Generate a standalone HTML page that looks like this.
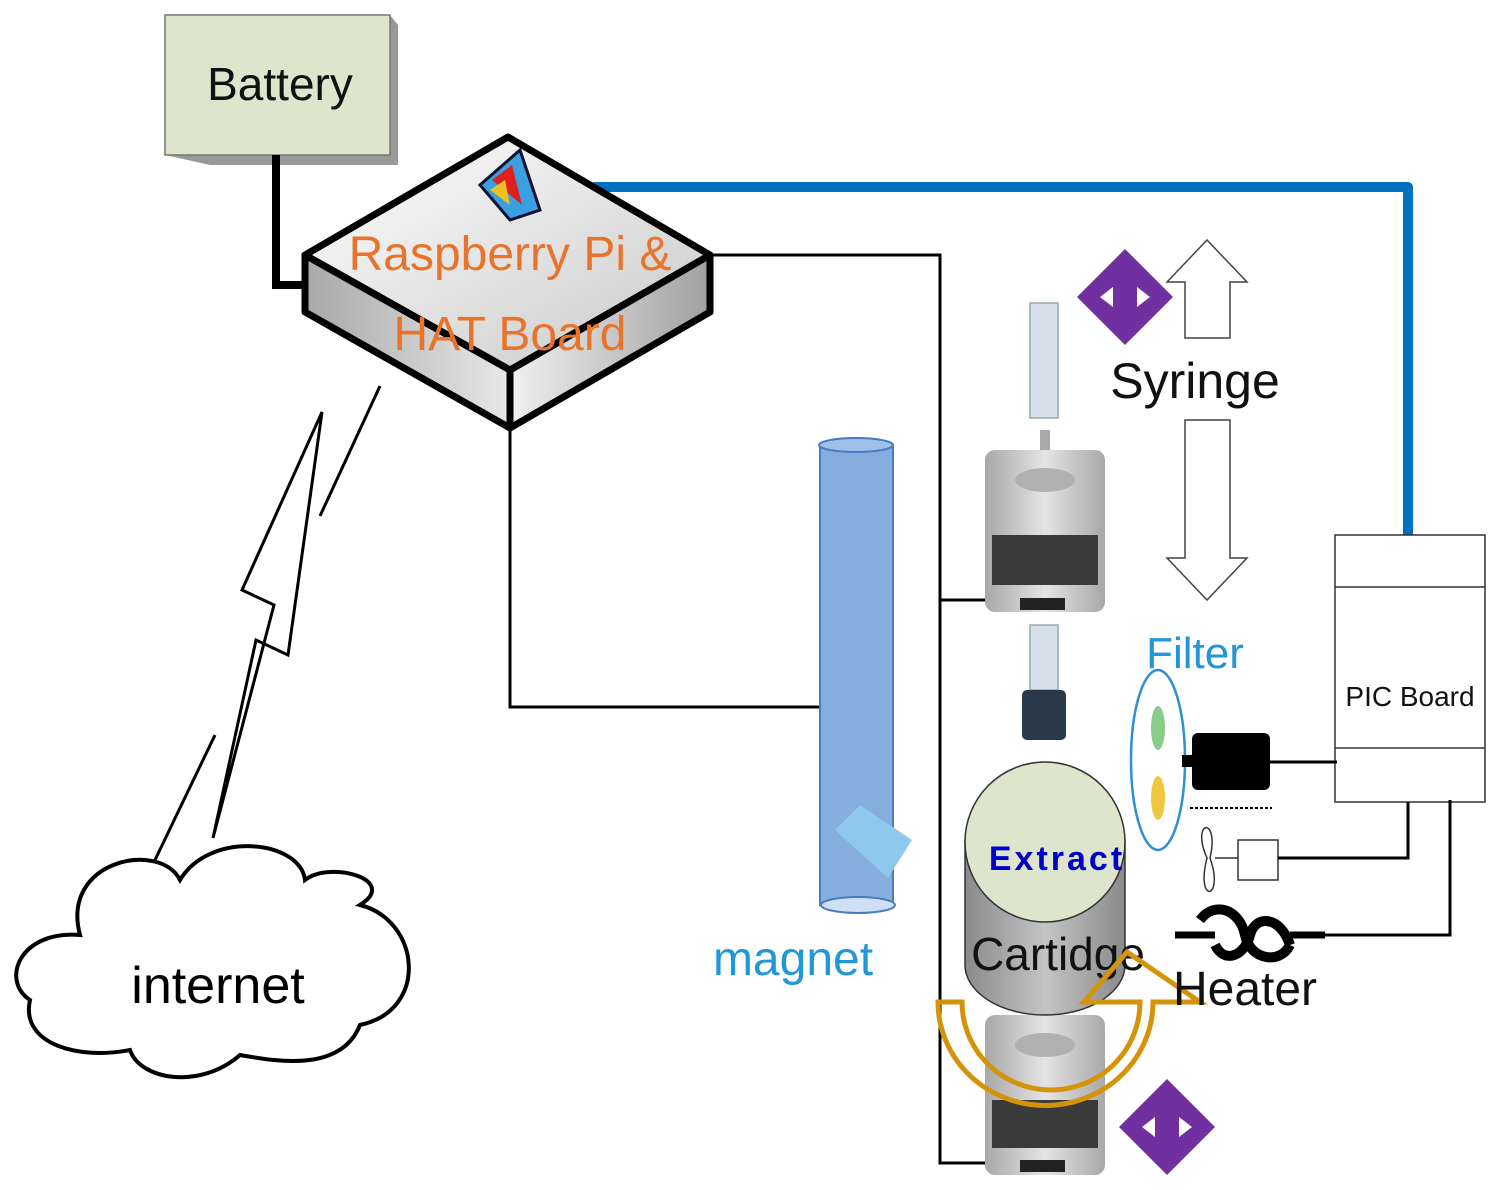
<!DOCTYPE html>
<html><head><meta charset="utf-8"><style>
html,body{margin:0;padding:0;background:#fff;}
svg{display:block;}
text{font-family:"Liberation Sans","DejaVu Sans",sans-serif;}
</style></head><body>
<svg width="1502" height="1190" viewBox="0 0 1502 1190" xmlns="http://www.w3.org/2000/svg">
<defs>
<linearGradient id="topg" x1="0" y1="0" x2="1" y2="1"><stop offset="0" stop-color="#ffffff"/><stop offset="1" stop-color="#c8c8c8"/></linearGradient>
<linearGradient id="lf" x1="0" y1="0" x2="1" y2="0"><stop offset="0" stop-color="#a8a8a8"/><stop offset="1" stop-color="#e8e8e8"/></linearGradient>
<linearGradient id="rf" x1="0" y1="0" x2="1" y2="0"><stop offset="0" stop-color="#f0f0f0"/><stop offset="1" stop-color="#a0a0a0"/></linearGradient>
<linearGradient id="cyl" x1="0" y1="0" x2="1" y2="0"><stop offset="0" stop-color="#8a8a8a"/><stop offset="0.5" stop-color="#c4c4c4"/><stop offset="1" stop-color="#8a8a8a"/></linearGradient>
<linearGradient id="mot" x1="0" y1="0" x2="1" y2="0"><stop offset="0" stop-color="#a8a8a8"/><stop offset="0.5" stop-color="#e4e4e4"/><stop offset="1" stop-color="#a8a8a8"/></linearGradient>
</defs>

<!-- Battery -->
<polygon points="390,15 398,25 398,165 390,155" fill="#999"/>
<polygon points="165,155 390,155 398,165 210,165" fill="#999"/>
<rect x="165" y="15" width="225" height="140" fill="#dde5cc" stroke="#777" stroke-width="1.5"/>
<text x="280" y="100" font-size="46" text-anchor="middle" fill="#111">Battery</text>
<polyline points="276,155 276,285 312,285" fill="none" stroke="#000" stroke-width="8"/>

<!-- connectors -->
<polyline points="710,255 940,255 940,1163 1000,1163" fill="none" stroke="#000" stroke-width="3"/>
<line x1="940" y1="600" x2="1000" y2="600" stroke="#000" stroke-width="3"/>
<polyline points="510,428 510,707 822,707" fill="none" stroke="#000" stroke-width="3"/>
<polyline points="595,187 1408,187 1408,537" fill="none" stroke="#0070c0" stroke-width="10" stroke-linecap="round" stroke-linejoin="round"/>

<!-- Raspberry Pi box -->
<polygon points="305,255 510,370 510,428 305,312" fill="url(#lf)" stroke="#000" stroke-width="7" stroke-linejoin="round"/>
<polygon points="510,370 710,255 710,312 510,428" fill="url(#rf)" stroke="#000" stroke-width="7" stroke-linejoin="round"/>
<polygon points="508,137 710,255 510,370 305,255" fill="url(#topg)" stroke="#000" stroke-width="7" stroke-linejoin="round"/>
<polygon points="480,185 520,150 540,210 510,220" fill="#3aa0e0" stroke="#113" stroke-width="3"/>
<polygon points="492,180 512,165 522,205" fill="#e02020"/>
<polygon points="490,190 505,180 510,205" fill="#f0c020"/>
<text x="510" y="270" font-size="48" text-anchor="middle" fill="#e8732a">Raspberry Pi &amp;</text>
<text x="510" y="350" font-size="48" text-anchor="middle" fill="#e8732a">HAT Board</text>

<!-- lightning -->
<polygon points="322,412 242,590 274,605 213,838 256,640 288,655" fill="none" stroke="#000" stroke-width="3"/>
<line x1="380" y1="386" x2="320" y2="516" stroke="#000" stroke-width="3"/>
<line x1="215" y1="735" x2="155" y2="860" stroke="#000" stroke-width="3"/>

<!-- cloud -->
<path d="M80,935 C60,860 160,840 180,880 C210,830 300,840 305,880 C330,860 400,880 360,905 C420,920 430,1010 360,1025 C340,1075 270,1060 240,1055 C200,1090 140,1080 130,1050 C80,1060 20,1045 30,1000 C0,980 20,930 80,935 Z" fill="#fff" stroke="#000" stroke-width="4"/>
<text x="218" y="1003" font-size="52" text-anchor="middle" fill="#000">internet</text>

<!-- magnet -->
<rect x="820" y="445" width="73" height="460" fill="#85aede" stroke="#4a7bc0" stroke-width="2"/>
<ellipse cx="856" cy="445" rx="37" ry="7" fill="#9fc0e8" stroke="#4a7bc0" stroke-width="2"/>
<ellipse cx="858" cy="905" rx="37" ry="8" fill="#cfe0f5" stroke="#4a7bc0" stroke-width="2"/>
<polygon points="835,830 860,805 912,840 888,878" fill="#8ec8ec"/>
<text x="793" y="975" font-size="48" text-anchor="middle" fill="#2196d8">magnet</text>

<!-- syringe & motor -->
<rect x="1030" y="303" width="28" height="115" fill="#d6e0ea" stroke="#9aa" stroke-width="1.5"/>
<rect x="1040" y="430" width="10" height="55" fill="#aaa"/>
<rect x="985" y="450" width="120" height="162" rx="10" fill="url(#mot)"/>
<ellipse cx="1045" cy="480" rx="30" ry="12" fill="#b0b0b0"/>
<rect x="992" y="535" width="106" height="50" fill="#3a3a3a"/>
<rect x="1020" y="598" width="45" height="12" fill="#222"/>
<rect x="1030" y="625" width="28" height="65" fill="#d6e0ea" stroke="#9aa" stroke-width="1.5"/>
<rect x="1022" y="690" width="44" height="50" rx="5" fill="#2a3a4a"/>

<!-- syringe arrows -->
<polygon points="1207,240 1247,282 1230,282 1230,338 1185,338 1185,282 1167,282" fill="#fff" stroke="#444" stroke-width="1.5"/>
<polygon points="1185,420 1230,420 1230,558 1247,558 1207,600 1167,558 1185,558" fill="#fff" stroke="#444" stroke-width="1.5"/>
<text x="1195" y="398" font-size="50" text-anchor="middle" fill="#111">Syringe</text>

<!-- purple diamonds -->
<polygon points="1125,249 1173,297 1125,345 1077,297" fill="#7030a0"/>
<polygon points="1100,297 1113,287 1113,307" fill="#fff"/><polygon points="1150,297 1137,287 1137,307" fill="#fff"/>

<!-- PIC Board -->
<rect x="1335" y="535" width="150" height="267" fill="#fff" stroke="#333" stroke-width="1.5"/>
<line x1="1335" y1="587" x2="1485" y2="587" stroke="#333" stroke-width="1.5"/>
<line x1="1335" y1="748" x2="1485" y2="748" stroke="#333" stroke-width="1.5"/>
<text x="1410" y="706" font-size="28" text-anchor="middle" fill="#111">PIC Board</text>

<!-- filter -->
<text x="1195" y="668" font-size="44" text-anchor="middle" fill="#2196d8">Filter</text>
<ellipse cx="1158" cy="760" rx="27" ry="90" fill="#fff" stroke="#2f8fd0" stroke-width="2.5"/>
<ellipse cx="1158" cy="728" rx="7" ry="22" fill="#88cc88"/>
<ellipse cx="1158" cy="798" rx="7" ry="22" fill="#f0c840"/>
<rect x="1192" y="733" width="78" height="57" rx="6" fill="#000"/>
<rect x="1182" y="755" width="12" height="12" fill="#000"/>
<line x1="1190" y1="808" x2="1272" y2="808" stroke="#000" stroke-width="2" stroke-dasharray="3,2"/>
<line x1="1270" y1="762" x2="1337" y2="762" stroke="#000" stroke-width="3"/>

<!-- fan -->
<path d="M1207,858 C1190,820 1220,815 1210,858 C1225,900 1195,905 1207,858 Z" fill="none" stroke="#333" stroke-width="1.5"/>
<rect x="1238" y="840" width="40" height="40" fill="#fff" stroke="#333" stroke-width="1.5"/>
<line x1="1215" y1="858" x2="1238" y2="858" stroke="#333" stroke-width="1.5"/>
<polyline points="1278,858 1408,858 1408,802" fill="none" stroke="#000" stroke-width="3"/>

<!-- heater -->
<line x1="1175" y1="935" x2="1215" y2="935" stroke="#000" stroke-width="7"/>
<path d="M1200,920 C1215,900 1240,910 1245,935 C1250,960 1280,965 1290,945" fill="none" stroke="#000" stroke-width="10"/>
<path d="M1290,945 C1280,915 1255,915 1250,935 C1245,955 1225,965 1215,945" fill="none" stroke="#000" stroke-width="10"/>
<line x1="1290" y1="935" x2="1325" y2="935" stroke="#000" stroke-width="7"/>
<polyline points="1325,935 1450,935 1450,800" fill="none" stroke="#000" stroke-width="3"/>

<!-- lower motor -->
<rect x="1040" y="1000" width="10" height="30" fill="#aaa"/>
<rect x="985" y="1015" width="120" height="160" rx="10" fill="url(#mot)"/>
<ellipse cx="1045" cy="1045" rx="30" ry="12" fill="#b0b0b0"/>
<rect x="992" y="1100" width="106" height="48" fill="#3a3a3a"/>
<rect x="1020" y="1160" width="45" height="12" fill="#222"/>
<polygon points="1167,1079 1215,1127 1167,1175 1119,1127" fill="#7030a0"/>
<polygon points="1142,1127 1155,1117 1155,1137" fill="#fff"/><polygon points="1192,1127 1179,1117 1179,1137" fill="#fff"/>

<!-- cartridge -->
<path d="M965,840 L965,965 A80,50 0 0 0 1125,965 L1125,840 Z" fill="url(#cyl)" stroke="#333" stroke-width="1.5"/>
<ellipse cx="1045" cy="842" rx="80" ry="80" fill="#dde5cc" stroke="#333" stroke-width="1.5"/>
<text x="1057" y="870" font-size="34" text-anchor="middle" fill="#0000cc" font-weight="bold" letter-spacing="3">Extract</text>
<text x="1058" y="970" font-size="46" text-anchor="middle" fill="#111">Cartidge</text>

<!-- rotating arrow -->
<path d="M938,1002 A107,103 0 0 0 1153,1002 L1200,1002 L1127,952 L1084,1002 L1140,1002 A89,88 0 0 1 962,1002 Z" fill="none" stroke="#d4940a" stroke-width="5" stroke-linejoin="miter"/>
<text x="1245" y="1005" font-size="48" text-anchor="middle" fill="#111">Heater</text>
</svg>
</body></html>
